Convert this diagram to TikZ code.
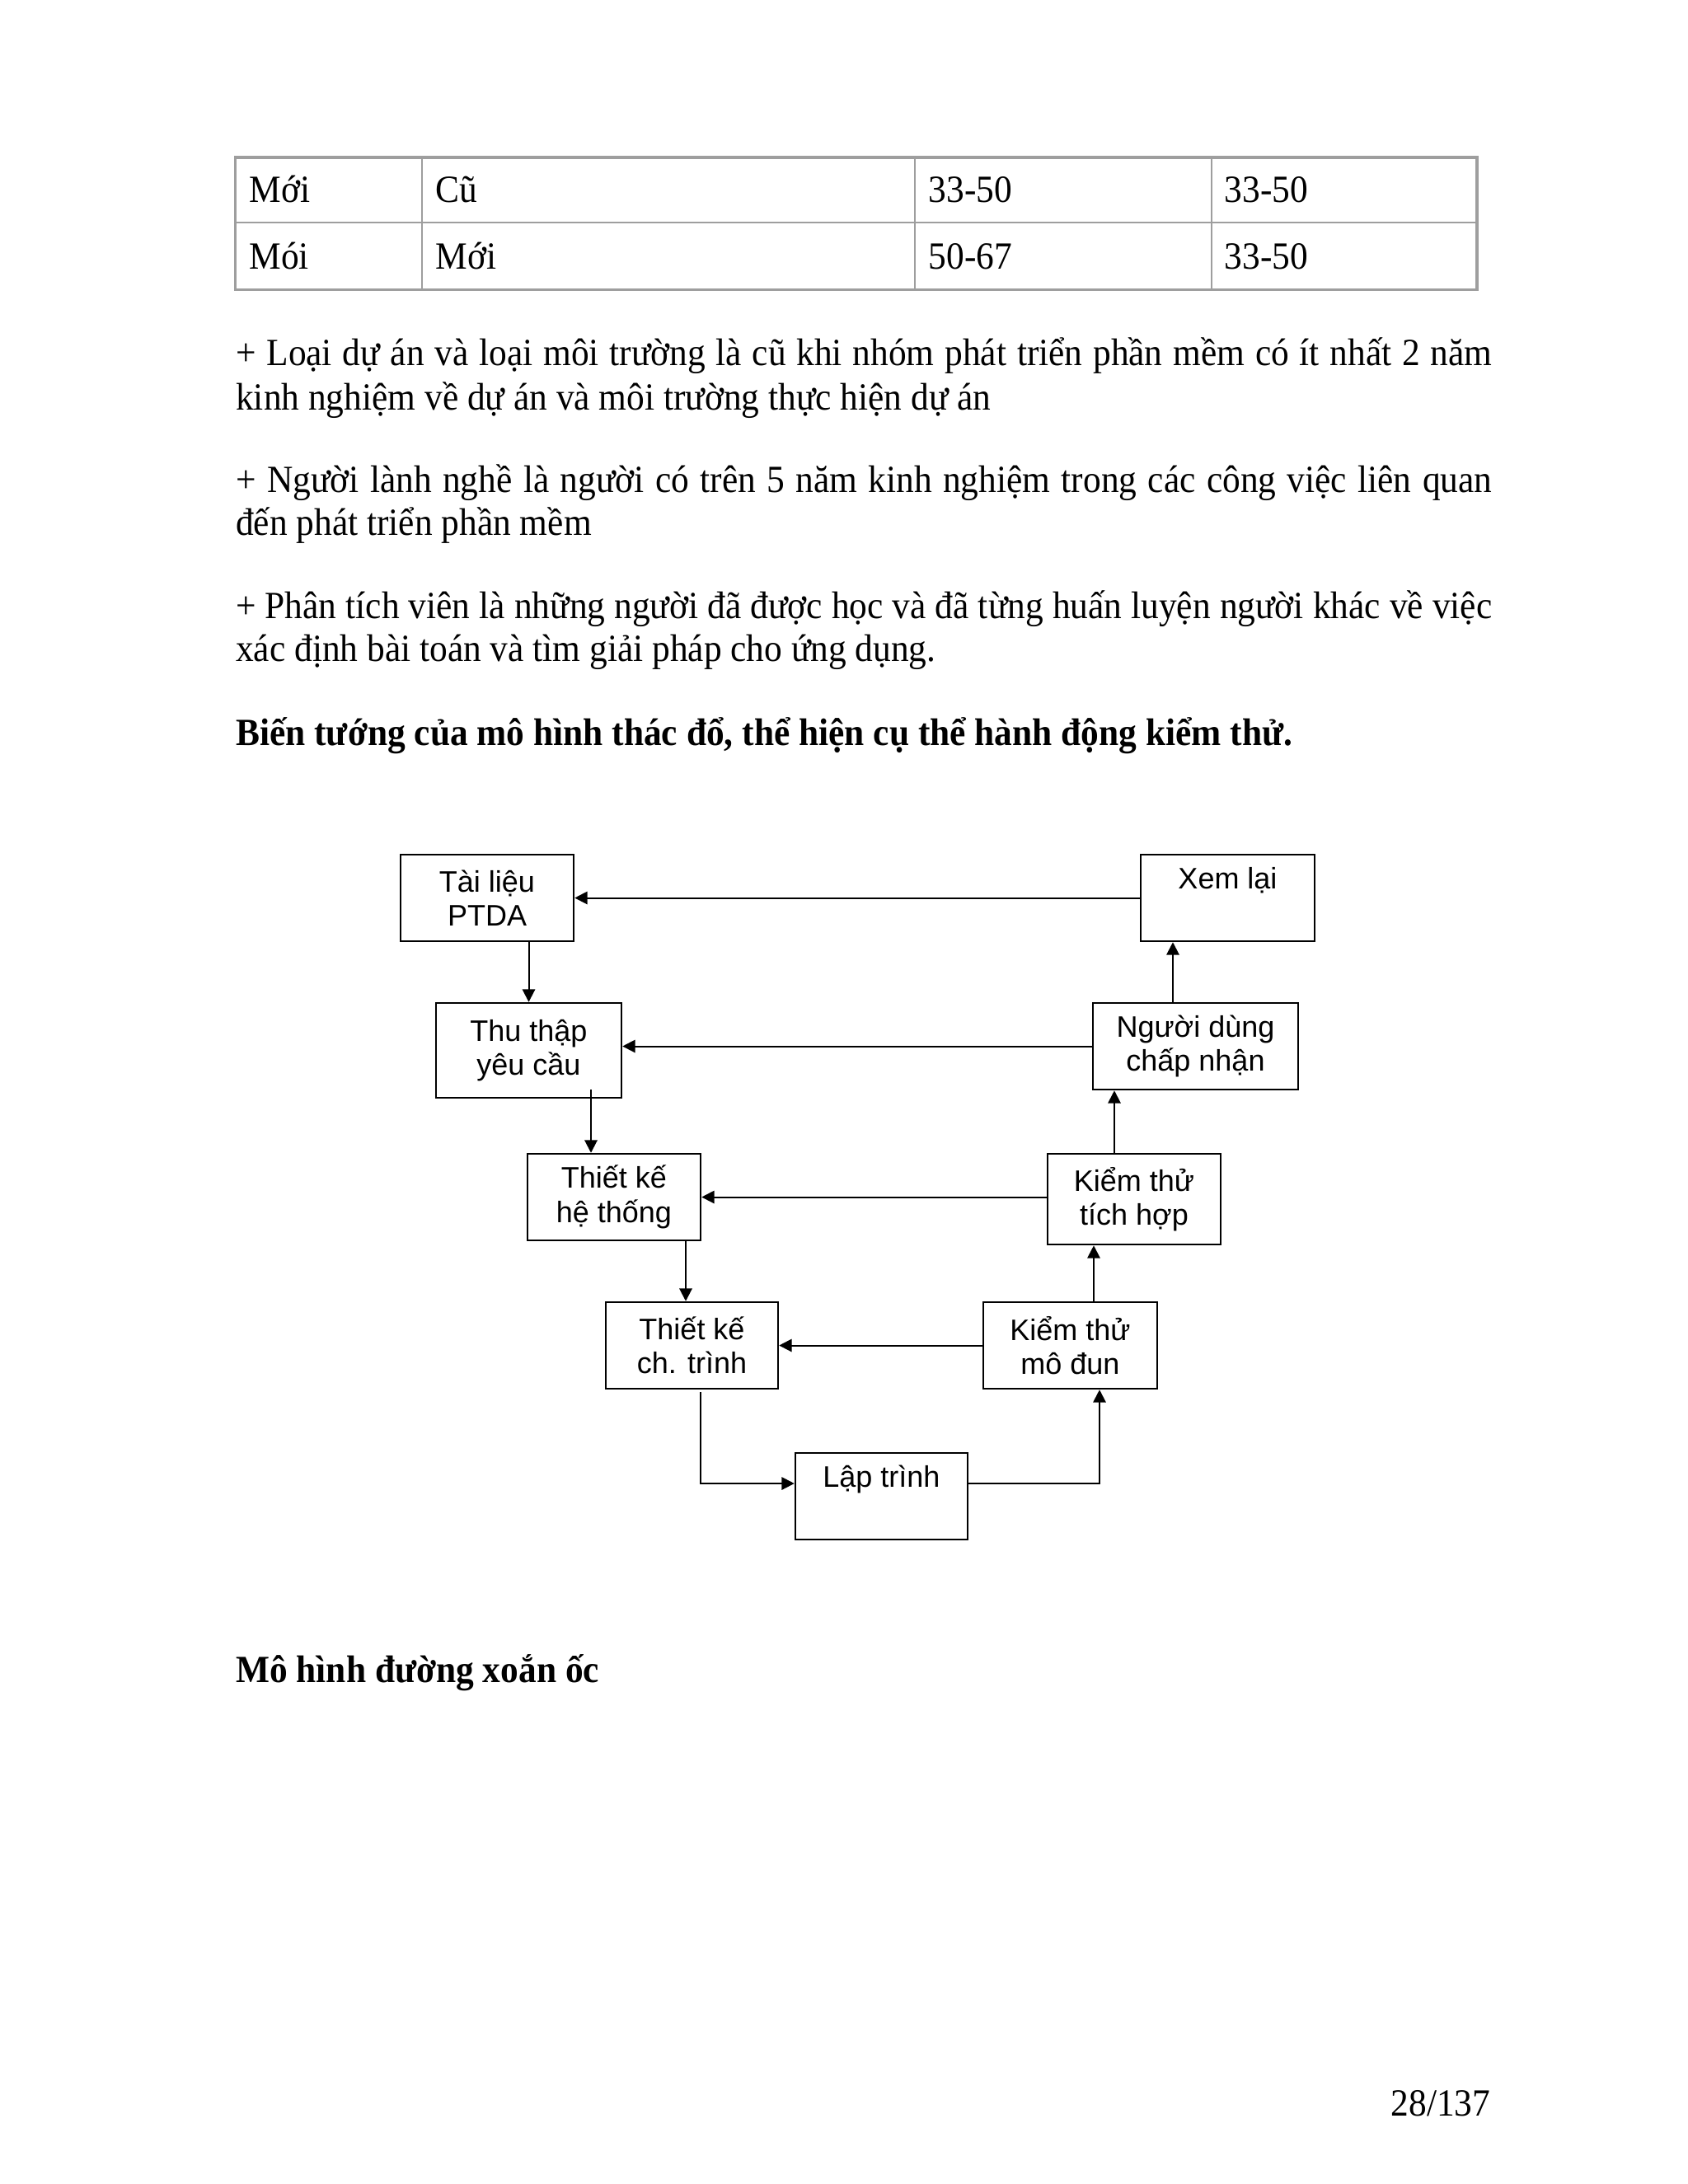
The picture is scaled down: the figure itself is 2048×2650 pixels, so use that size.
\documentclass[tikz,border=0pt]{standalone}
\usepackage{fontspec}
\setmainfont{Liberation Serif}[FakeStretch=0.93]
\newfontfamily\arialf{Liberation Sans}
\usetikzlibrary{arrows.meta}
\begin{document}
\begin{tikzpicture}[x=0.3pt,y=-0.3pt,
  box/.style={draw, line width=0.75pt, inner sep=0pt, align=center,
    minimum height=31.5pt, font=\arialf\fontsize{10.8}{12.4}\selectfont},
  arr/.style={line width=0.6pt, -{Triangle[length=4.6pt,width=4.6pt]}},
  tline/.style={draw=black!38, line width=0.7pt},
  tframe/.style={draw=black!38, line width=1pt},
  body/.style={anchor=base west, inner sep=0pt, font=\fontsize{14}{16}\selectfont},
  bodyb/.style={anchor=base west, inner sep=0pt, font=\bfseries\fontsize{14}{16}\selectfont},
]
\useasboundingbox[fill=white] (0,0) rectangle (2048,2650);

% ---------- table ----------
\draw[tframe] (285.6,191) rectangle (1792,351.5);
\draw[tline] (285.6,270) -- (1792,270);
\draw[tline] (512,191) -- (512,351.5);
\draw[tline] (1110,191) -- (1110,351.5);
\draw[tline] (1470,191) -- (1470,351.5);
\node[body] (c11) at (302,245) {Mới};
\node[body] (c12) at (528,245) {Cũ};
\node[body] (c13) at (1126,245) {33-50};
\node[body] (c14) at (1485,245) {33-50};
\node[body] (c21) at (302,326) {Mói};
\node[body] (c22) at (528,326) {Mới};
\node[body] (c23) at (1126,326) {50-67};
\node[body] (c24) at (1485,326) {33-50};

% ---------- paragraphs ----------
\node[body] (p1a) at (285.6,443) {\hbox to 457.2pt{+ Loại dự án và loại môi trường là cũ khi nhóm phát triển phần mềm có ít nhất 2 năm}};
\node[body] (p1b) at (285.6,497) {kinh nghiệm về dự án và môi trường thực hiện dự án};
\node[body] (p2a) at (285.6,597) {\hbox to 457.2pt{+ Người lành nghề là người có trên 5 năm kinh nghiệm trong các công việc liên quan}};
\node[body] (p2b) at (285.6,649) {đến phát triển phần mềm};
\node[body] (p3a) at (285.6,750) {\hbox to 457.2pt{+ Phân tích viên là những người đã được học và đã từng huấn luyện người khác về việc}};
\node[body] (p3b) at (285.6,802) {xác định bài toán và tìm giải pháp cho ứng dụng.};
\node[bodyb] (h1) at (285.6,904) {Biến tướng của mô hình thác đổ, thể hiện cụ thể hành động kiểm thử.};
\node[bodyb] (h2) at (285.6,2041) {Mô hình đường xoắn ốc};
\node[anchor=base east, inner sep=0pt, font=\fontsize{14}{16}\selectfont] (pg) at (1809,2567) {28/137};

% ---------- diagram boxes ----------
\node[box, minimum width=63pt] (tl) at (591,1089.5) {Tài liệu\\PTDA};
\node[box, minimum width=63.3pt] (xl) at (1489.5,1089.5) {Xem lại\\\phantom{Xg}};
\node[box, minimum width=67.5pt, minimum height=34.5pt] (tt) at (641.5,1274.5) {Thu thập\\yêu cầu};
\node[box, minimum width=74.7pt] (nd) at (1450.5,1269.5) {Người dùng\\chấp nhận};
\node[box, minimum width=63pt] (tkh) at (745,1452.5) {Thiết kế\\hệ thống};
\node[box, minimum width=63pt, minimum height=33pt] (kth) at (1376,1455) {Kiểm thử\\tích hợp};
\node[box, minimum width=62.7pt] (tkc) at (839.5,1632.5) {Thiết kế\\ch. trình};
\node[box, minimum width=63.3pt] (ktm) at (1298.5,1632.5) {Kiểm thử\\mô đun};
\node[box, minimum width=62.7pt] (lt) at (1069.5,1815.5) {Lập trình\\\phantom{Xg}};

% ---------- helper coordinates ----------
\coordinate (ttout) at (717,1322);
\coordinate (x832) at (832,0);
\coordinate (tkcout) at (850,1689);
\coordinate (y1800) at (0,1800);
\coordinate (x1334) at (1334,0);
\coordinate (x1327) at (1327,0);
\coordinate (x1352) at (1352,0);
\coordinate (x1423) at (1423,0);

% ---------- connectors ----------
\draw[arr] (xl.west) -- (tl.east);
\draw[arr] (tl.south -| tt.north) -- (tt.north);
\draw[arr] (nd.west) -- (nd.west -| tt.east);
\draw[arr] (ttout) -- (ttout |- tkh.north);
\draw[arr] (kth.west |- tkh.east) -- (tkh.east);
\draw[arr] (tkh.south -| x832) -- (tkc.north -| x832);
\draw[arr] (ktm.west) -- (tkc.east);
\draw[arr] (tkcout) |- (lt.west |- y1800);
\draw[arr] (lt.east |- y1800) -| (ktm.south -| x1334);
\draw[arr] (ktm.north -| x1327) -- (kth.south -| x1327);
\draw[arr] (kth.north -| x1352) -- (nd.south -| x1352);
\draw[arr] (nd.north -| x1423) -- (xl.south -| x1423);
\end{tikzpicture}
\end{document}
